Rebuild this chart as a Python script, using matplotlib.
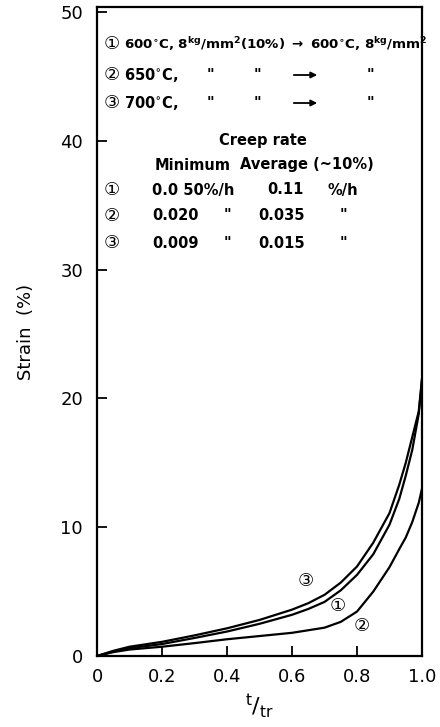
import matplotlib
matplotlib.use("Agg")
import matplotlib.pyplot as plt

plt.rcParams['font.family'] = ['DejaVu Sans', 'Noto Sans CJK JP']
plt.rcParams['mathtext.default'] = 'regular'

# data
t = [0, 0.05, 0.1, 0.2, 0.3, 0.4, 0.5, 0.6, 0.65, 0.7, 0.75, 0.8, 0.85, 0.9, 0.93, 0.95, 0.97, 0.99, 1.0]
strain1 = [0, 0.35, 0.6, 0.93, 1.4, 1.9, 2.5, 3.2, 3.65, 4.2, 5.1, 6.3, 7.9, 10.2, 12.2, 14.0, 16.0, 18.8, 21.5]
strain2 = [0, 0.3, 0.5, 0.72, 1.0, 1.3, 1.55, 1.8, 2.0, 2.2, 2.65, 3.45, 5.0, 6.9, 8.3, 9.2, 10.4, 11.9, 13.0]
strain3 = [0, 0.4, 0.72, 1.1, 1.6, 2.15, 2.8, 3.6, 4.1, 4.75, 5.7, 6.95, 8.8, 11.1, 13.3, 15.0, 17.0, 19.0, 21.5]
xticks = [0, 0.2, 0.4, 0.6, 0.8, 1.0]
xticklabels = ['0', '0.2', '0.4', '0.6', '0.8', '1.0']
yticks = [0, 10, 20, 30, 40, 50]
curve_labels = ['①', '②', '③']
label_pos = [(0.742, 3.85), (0.815, 2.3), (0.643, 5.8)]
min_rates = ['0.0 50%/h', '0.020', '0.009']
avg_rates = ['0.11', '0.035', '0.015']

W, H = 440, 727
fig = plt.figure(figsize=(W / 100, H / 100), dpi=100)
L, R, B, T = 97, 422, 656, 7
ax = fig.add_axes([L / W, 1 - B / H, (R - L) / W, (B - T) / H])

for s in (strain1, strain2, strain3):
    ax.plot(t, s, color='black', lw=1.6, solid_joinstyle='round')

ax.set_xlim(0, 1.0)
ax.set_ylim(0, 50.4)
ax.set_xticks(xticks)
ax.set_xticklabels(xticklabels)
ax.set_yticks(yticks)
for sp in ax.spines.values():
    sp.set_linewidth(1.6)
ax.tick_params(direction='in', length=7, width=1.3, labelsize=13)
ax.tick_params(axis='y', pad=10)
ax.tick_params(axis='x', pad=9)

ax.set_ylabel('Strain  (%)', fontsize=13, labelpad=18)
ax.set_xlabel(r'$^{t}/_{tr}$', fontsize=16, labelpad=4)

for lab, (x, y) in zip(curve_labels, label_pos):
    ax.text(x, y, lab, fontsize=13, ha='center', va='center')


def fx(px):
    return (px - L) / (R - L)


def fy(py):
    return (B - py) / (B - T)


tr = ax.transAxes
fs = 10.5
kw = dict(transform=tr, fontsize=fs, va='center', fontweight='bold')
ckw = dict(transform=tr, fontsize=13, va='center', ha='center')
rows_y = [44, 75, 103]
for i, py in enumerate(rows_y):
    ax.text(fx(112), fy(py), curve_labels[i], **ckw)
ax.text(fx(124), fy(rows_y[0]),
        r'600$^{\circ}$C, 8$^{kg}$/mm$^{2}$(10%) $\rightarrow$ 600$^{\circ}$C, 8$^{kg}$/mm$^{2}$',
        ha='left', transform=tr, fontsize=9.6, va='center', fontweight='bold')
for i, temp in enumerate(['650', '700']):
    py = rows_y[i + 1]
    ax.text(fx(124), fy(py), temp + r'$^{\circ}$C,', ha='left', **kw)
    ax.text(fx(210), fy(py), '"', ha='center', **kw)
    ax.text(fx(257), fy(py), '"', ha='center', **kw)
    ax.text(fx(370), fy(py), '"', ha='center', **kw)
    ax.annotate('', xy=(fx(320), fy(py)), xytext=(fx(291), fy(py)), xycoords=tr,
                textcoords=tr, arrowprops=dict(arrowstyle='-|>', color='black', lw=1.3,
                                               mutation_scale=9))

ax.text(fx(263), fy(140), 'Creep rate', ha='center', **kw)
ax.text(fx(155), fy(165), 'Minimum', ha='left', **kw)
ax.text(fx(240), fy(165), 'Average (~10%)', ha='left', **kw)

table_y = [190, 216, 243]
for i, py in enumerate(table_y):
    ax.text(fx(112), fy(py), curve_labels[i], **ckw)
    ax.text(fx(152), fy(py), min_rates[i], ha='left', **kw)
    ax.text(fx(258) if i else fx(267), fy(py), avg_rates[i], ha='left', **kw)
    if i == 0:
        ax.text(fx(327), fy(py), '%/h', ha='left', **kw)
    else:
        ax.text(fx(227), fy(py), '"', ha='center', **kw)
        ax.text(fx(343), fy(py), '"', ha='center', **kw)

fig.savefig('out.png', dpi=100)
